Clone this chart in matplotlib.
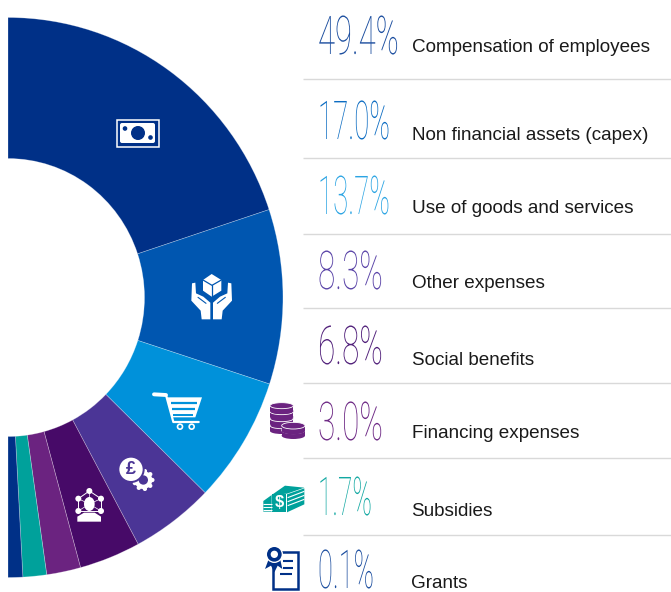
import numpy as np
import matplotlib
matplotlib.use('Agg')
import matplotlib.pyplot as plt
from matplotlib.patches import Circle, Ellipse, Polygon, Rectangle, FancyBboxPatch
from matplotlib.patheffects import AbstractPathEffect
from matplotlib.transforms import Affine2D

# categories and the printed shares
categories = ['Compensation of employees', 'Non financial assets (capex)', 'Use of goods and services',
              'Other expenses', 'Social benefits', 'Financing expenses', 'Subsidies', 'Grants']
share_labels = ['49.4%', '17.0%', '13.7%', '8.3%', '6.8%', '3.0%', '1.7%', '0.1%']

# how many degrees each slice takes in the picture (half ring, clockwise from the top)
sweep_deg = [71.7, 36.3, 26.2, 17.55, 12.95, 7.2, 5.0, 3.1]

slice_colors = ['#003087', '#0056B0', '#0091DA', '#4B3596', '#470A68', '#6B2380', '#00A19B', '#003087']
number_colors = ['#1C4E9F', '#0C6CC2', '#2BA4E3', '#5B45A8', '#51207A', '#6F2B86', '#12A8A2', '#1C4E9F']

# layout, in pixels of the 671x592 picture
number_baseline = [54, 139, 214, 289, 364, 440, 515, 588]
number_width = [81, 72, 72, 65, 65, 65, 54, 56]
label_baseline = [52, 140, 213, 288, 365, 438, 516, 588]
rule_y = [79, 158, 234, 308, 383, 458, 535]

W, H = 671, 592
fig = plt.figure(figsize=(W / 100, H / 100), dpi=100)
ax = fig.add_axes([0, 0, 1, 1])

fracs = [d / 360 for d in sweep_deg]
wedges, _ = ax.pie(fracs, colors=slice_colors, startangle=-90, counterclock=True, normalize=False,
                   center=(8, 297.5), radius=280,
                   wedgeprops=dict(width=141, edgecolor='#ffffff55', linewidth=0.5))

ax.set_xlim(0, W)
ax.set_ylim(H, 0)
ax.axis('off')

# the ring in the picture is a little narrower than it is tall, and cut flat on the left
squash = Affine2D().translate(-8, -297.5).scale(0.982, 1).translate(8, 297.5)
left_cut = Rectangle((8, 0), W, H, transform=ax.transData)
for wd in wedges:
    wd.set_transform(squash + ax.transData)
    wd.set_clip_path(left_cut)


class Tall(AbstractPathEffect):
    # no condensed font is installed: a small font size, drawn taller from the baseline
    def __init__(self, sy):
        super().__init__()
        self.sy = sy

    def draw_path(self, renderer, gc, tpath, affine, rgbFace=None):
        renderer.draw_path(gc, tpath, Affine2D().scale(1, self.sy) + affine, rgbFace)


# rules
for y in rule_y:
    ax.plot([303, W], [y, y], color='#d9d9d9', lw=1.0, solid_capstyle='butt')

# big numbers and labels
rend = fig.canvas.get_renderer()
for i in range(len(categories)):
    t = ax.text(318, number_baseline[i], share_labels[i], color=number_colors[i], fontsize=38.5,
                family='Roboto', weight='light', ha='left', va='baseline')
    sx = number_width[i] / t.get_window_extent(rend).width
    t.set_fontsize(38.5 * sx)
    t.set_path_effects([Tall(1 / sx)])
    ax.text(411.5, label_baseline[i], categories[i], color='#1a1a1a', fontsize=13.6,
            family='Liberation Sans', ha='left', va='baseline')


def zp(points, ox, oy):
    return [(ox + x / 3, oy + y / 3) for x, y in points]


def poly(points, ox, oy, color, **kw):
    ax.add_patch(Polygon(zp(points, ox, oy), closed=True, facecolor=color, edgecolor='none', **kw))


def line(points, ox, oy, color, lw, cap='round'):
    xy = np.array(zp(points, ox, oy))
    ax.plot(xy[:, 0], xy[:, 1], color=color, lw=lw, solid_capstyle=cap, solid_joinstyle='round')


def dot(x, y, ox, oy, r, color, **kw):
    ax.add_patch(Circle((ox + x / 3, oy + y / 3), r / 3, facecolor=color, edgecolor='none', **kw))


# money note
ax.add_patch(Rectangle((116.5, 119.5), 42.5, 27, fill=False, edgecolor='white', lw=1.1))
ax.add_patch(FancyBboxPatch((120, 123), 35, 20, boxstyle='round,pad=0,rounding_size=2',
                            facecolor='white', edgecolor='none'))
ax.add_patch(Circle((138, 133), 6.3, color=slice_colors[0]))
ax.add_patch(Circle((125, 128.5), 1.6, color=slice_colors[0]))
ax.add_patch(Circle((150.5, 137.5), 1.6, color=slice_colors[0]))

# box in hands
ox, oy = 170, 260
poly([(125, 42), (154, 60), (154, 92), (125, 110), (99, 92), (99, 60)], ox, oy, 'white')
line([(99, 60), (126, 76), (154, 60)], ox, oy, slice_colors[1], 0.9)
line([(126, 76), (126, 110)], ox, oy, slice_colors[1], 0.9)
hand = [(66, 70), (76, 68), (78, 100), (100, 110), (121, 128), (121, 178), (95, 178), (92, 152), (64, 122)]
poly(hand, ox, oy, 'white')
poly([(2 * 125 - x, y) for x, y in hand], ox, oy, 'white')
line([(84, 112), (108, 130)], ox, oy, slice_colors[1], 0.8)
line([(166, 112), (142, 130)], ox, oy, slice_colors[1], 0.8)

# trolley
ox, oy = 0, 380
line([(462, 43), (498, 45)], ox, oy, 'white', 2.8)
line([(498, 45), (520, 126), (596, 126)], ox, oy, 'white', 1.6)
poly([(500, 52), (606, 52), (586, 112), (516, 112)], ox, oy, 'white')
line([(512, 68), (592, 68)], ox, oy, slice_colors[2], 1.6, 'butt')
line([(516, 88), (586, 88)], ox, oy, slice_colors[2], 1.6, 'butt')
line([(520, 106), (580, 106)], ox, oy, slice_colors[2], 1.4, 'butt')
for x in (540, 575):
    ax.add_patch(Circle((x / 3, oy + 140 / 3), 2.5, facecolor='none', edgecolor='white', lw=1.2))

# pound and gear
for a in np.arange(0, 360, 40):
    x = 430 + 27 * np.cos(np.radians(a))
    y = 300 + 27 * np.sin(np.radians(a))
    dot(x, y, ox, oy, 6.5, 'white')
dot(430, 300, ox, oy, 27, 'white')
dot(430, 300, ox, oy, 14, slice_colors[3])
dot(393, 268, ox, oy, 41, slice_colors[3])
dot(393, 268, ox, oy, 35, 'white')
ax.text(393 / 3, oy + 268 / 3 + 0.3, '£', color=slice_colors[3], fontsize=13, weight='bold',
        family='Liberation Sans', ha='center', va='center')

# person in a network
nodes = [(268, 333), (303, 356), (303, 393), (235, 393), (235, 356)]
for j in range(5):
    line([nodes[j], nodes[(j + 1) % 5]], ox, oy, 'white', 0.7)
    line([nodes[j], (268, 372)], ox, oy, 'white', 0.5)
    dot(nodes[j][0], nodes[j][1], ox, oy, 9, 'white')
ax.add_patch(Ellipse((268 / 3, oy + 372 / 3), 40 / 3, 50 / 3, facecolor=slice_colors[4], edgecolor='none'))
ax.add_patch(Ellipse((268 / 3, oy + 372 / 3), 32 / 3, 42 / 3, facecolor='white', edgecolor='none'))
poly([(232, 425), (232, 410), (252, 398), (284, 398), (303, 410), (303, 425)], ox, oy, 'white')

# coins
ox, oy = 255, 395
coin = slice_colors[5]


def coin_stack(cx, ys, rx, ry):
    for y in ys:
        ax.add_patch(Ellipse((ox + cx / 3, oy + (y + 16) / 3), 2 * rx / 3, 2 * ry / 3, facecolor=coin, edgecolor='none'))
        ax.add_patch(Rectangle((ox + (cx - rx) / 3, oy + y / 3), 2 * rx / 3, 16 / 3, facecolor=coin, edgecolor='none'))
        ax.add_patch(Ellipse((ox + cx / 3, oy + y / 3), 2 * rx / 3, 2 * ry / 3, facecolor=coin, edgecolor='white', lw=0.6))


coin_stack(80, (92, 71, 50, 32), 35, 9)
coin_stack(115, (106, 92), 35, 10)

# banknotes
teal = slice_colors[6]
poly([(50, 300), (90, 272), (148, 278), (96, 296)], ox, oy, teal)
poly([(96, 298), (148, 280), (148, 328), (96, 352)], ox, oy, teal)
poly([(25, 318), (50, 300), (50, 350), (25, 350)], ox, oy, teal)
poly([(52, 298), (94, 298), (94, 352), (52, 352)], ox, oy, teal)
for y in (308, 320, 332):
    line([(98, y), (148, y - 19)], ox, oy, 'white', 0.8, 'butt')
for y in (326, 336, 344):
    line([(25, y), (50, y)], ox, oy, 'white', 0.8, 'butt')
ax.text(ox + 73 / 3, oy + 322 / 3, '$', color='white', fontsize=12, weight='bold',
        family='Liberation Sans', ha='center', va='center')

# certificate
navy = slice_colors[7]
xy = zp([(55, 472), (130, 472), (130, 582), (55, 582), (55, 472)], ox, oy)
ax.add_patch(Polygon(xy, closed=True, facecolor='white', edgecolor=navy, lw=1.8))
line([(85, 497), (115, 497)], ox, oy, navy, 1.5, 'butt')
line([(85, 518), (115, 518)], ox, oy, navy, 1.5, 'butt')
line([(75, 538), (112, 538)], ox, oy, navy, 1.5, 'butt')
poly([(42, 490), (30, 522), (48, 512), (58, 532), (68, 512), (82, 522), (75, 490)], ox, oy, navy)
dot(58, 478, ox, oy, 26, 'white')
dot(58, 478, ox, oy, 22, navy)
dot(58, 478, ox, oy, 11, 'white')

fig.savefig('out.png', dpi=100)
